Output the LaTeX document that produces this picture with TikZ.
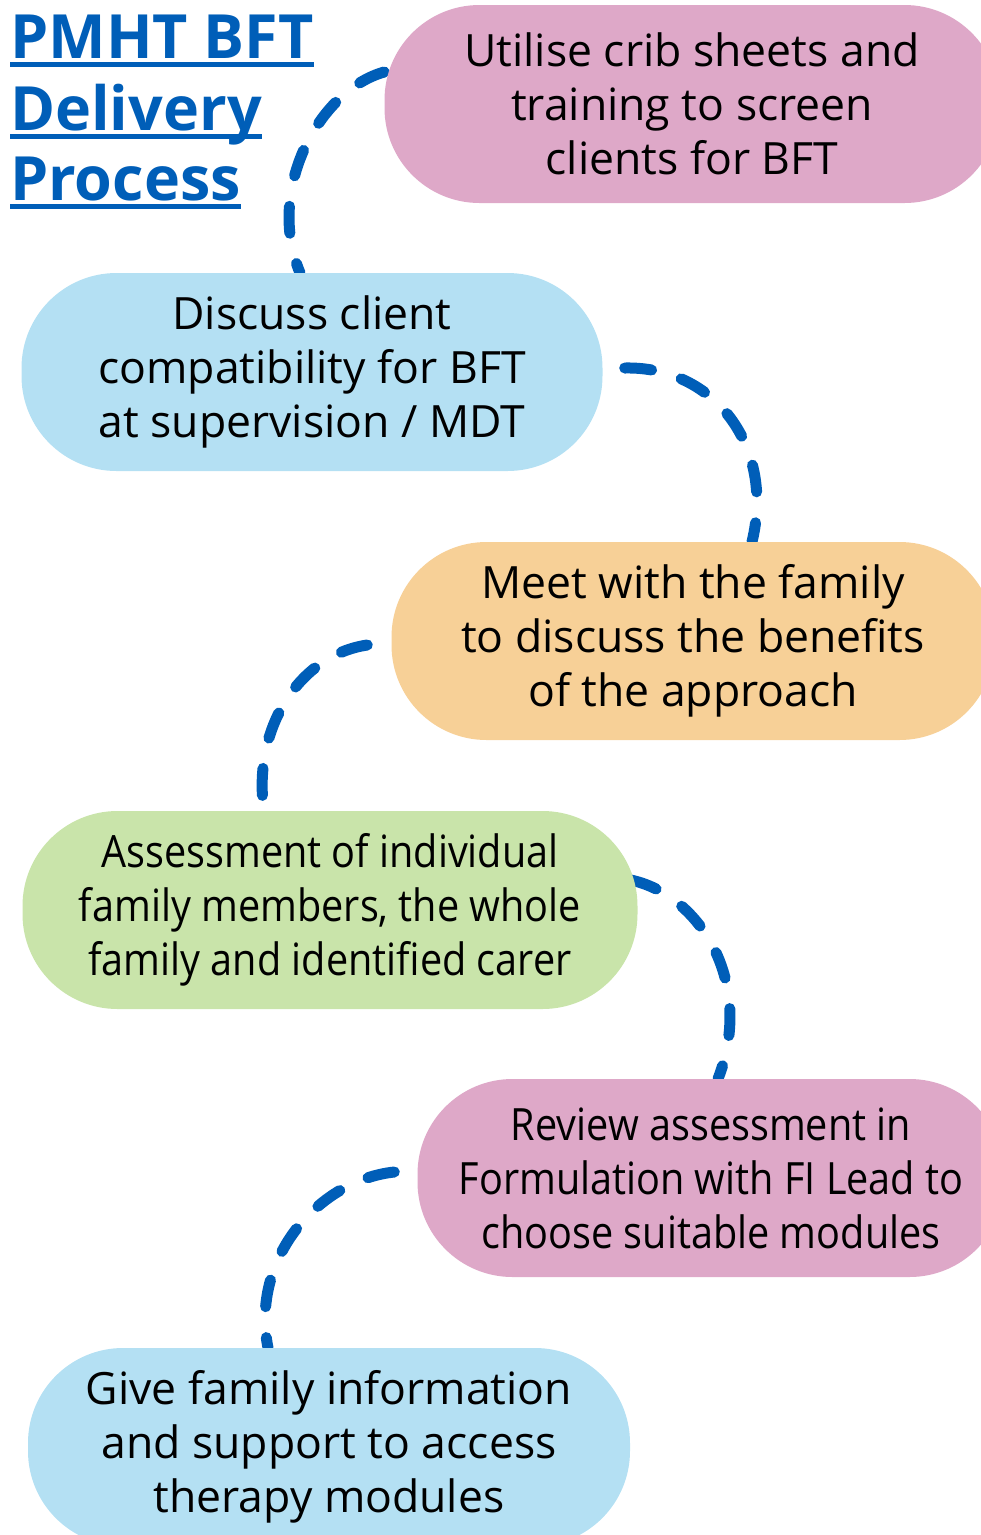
\documentclass[tikz,border=0pt]{standalone}
\usepackage{fontspec}
\setmainfont{Open Sans}
\newfontfamily\narrowfont[FakeStretch=0.89]{Open Sans}
\usetikzlibrary{backgrounds}
\definecolor{nhsblue}{RGB}{0,94,184}
\definecolor{blobpink}{RGB}{222,168,200}
\definecolor{blobblue}{RGB}{180,224,243}
\definecolor{bloborange}{RGB}{247,208,151}
\definecolor{blobgreen}{RGB}{201,228,170}
\tikzset{
  titleline/.style={anchor=base west, inner sep=0pt, text=nhsblue,
    font=\bfseries\fontsize{61}{72}\selectfont},
  blob/.style={fill=#1, rounded corners=95pt, minimum height=198pt, inner sep=0pt,
    align=center, font=\fontsize{44.5}{54}\selectfont},
  link/.style={draw=nhsblue, line width=11pt, line cap=round, dash pattern=on 27pt off 31pt},
}
\begin{document}
\begin{tikzpicture}[x=1pt, y=-1pt]
  \clip (0,0) rectangle (981,1535);
  % title
  \node[titleline] (title1) at (10,58) {PMHT BFT};
  \node[titleline] (title2) at (10,130) {Delivery};
  \node[titleline] (title3) at (10,200) {Process};
  \foreach \t in {title1,title2,title3}
    \draw[nhsblue, line width=5pt] ([yshift=-6pt]\t.base west) -- ([yshift=-6pt]\t.base east);
  % steps
  \node[blob=blobpink, minimum width=615pt] (crib) at (692,104)
    {Utilise crib sheets and\\training to screen\\clients for BFT};
  \node[blob=blobblue, minimum width=581pt] (discuss) at (312,372)
    {Discuss client\\compatibility for BFT\\at supervision / MDT};
  \node[blob=bloborange, minimum width=603pt] (meet) at (693,641)
    {Meet with the family\\to discuss the benefits\\of the approach};
  \node[blob=blobgreen, minimum width=615pt] (assess) at (330,910)
    {\narrowfont Assessment of individual\\\narrowfont family members, the whole\\\narrowfont family and identified carer};
  \node[blob=blobpink, minimum width=587pt] (review) at (711,1178)
    {\narrowfont Review assessment in\\\narrowfont Formulation with FI Lead to\\\narrowfont choose suitable modules};
  \node[blob=blobblue, minimum width=602pt] (give) at (329,1447)
    {Give family information\\and support to access\\therapy modules};
  % connectors
  \begin{pgfonlayer}{background}
    \draw[link] ([yshift=32pt]crib.west) .. controls +(-65,18) and +(-35,-83) .. ([xshift=-12pt]discuss.north);
    \draw[link] ([xshift=22pt,yshift=4pt]discuss.east) .. controls +(90,-2) and +(23,-95) .. ([xshift=59pt]meet.north);
    \draw[link] ([xshift=-24pt,yshift=-4pt]meet.west) .. controls +(-68,10) and +(-12,-82) .. ([xshift=-66pt]assess.north);
    \draw[link] ([xshift=-7pt,yshift=30pt]assess.east) .. controls +(70,15) and +(37,-95) .. ([xshift=7pt]review.north);
    \draw[link] ([xshift=-23pt,yshift=6pt]review.west) .. controls +(-75,8) and +(-18,-90) .. ([xshift=-61pt]give.north);
  \end{pgfonlayer}
\end{tikzpicture}
\end{document}
